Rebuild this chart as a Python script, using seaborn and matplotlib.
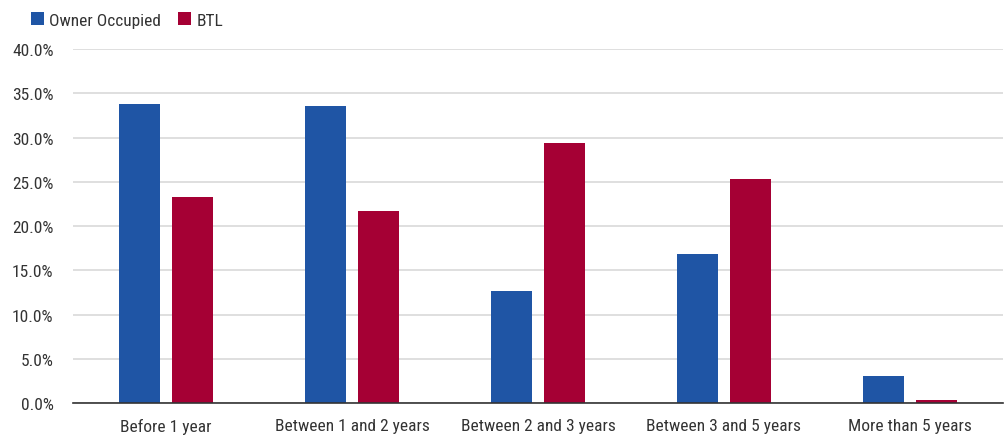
import matplotlib
matplotlib.use("Agg")
import matplotlib.pyplot as plt
import seaborn as sns
import pandas as pd
from matplotlib.ticker import FuncFormatter
from matplotlib.patches import Patch
from matplotlib import font_manager

categories = ["Before 1 year", "Between 1 and 2 years", "Between 2 and 3 years",
              "Between 3 and 5 years", "More than 5 years"]
owner_occupied = [33.8, 33.6, 12.7, 16.8, 3.1]
btl = [23.3, 21.7, 29.4, 25.3, 0.3]
series_names = ["Owner Occupied", "BTL"]
colors = ["#1f55a5", "#a50034"]

df = pd.DataFrame({
    "category": categories * 2,
    "value": owner_occupied + btl,
    "series": [series_names[0]] * len(categories) + [series_names[1]] * len(categories),
})

sns.set_style("white")
available = {f.name for f in font_manager.fontManager.ttflist}
fams = [f for f in ["Roboto Condensed", "Archivo Narrow", "Roboto"] if f in available] + ["DejaVu Sans"]
plt.rcParams['font.family'] = fams
text_color = "#333333"

fig = plt.figure(figsize=(10.06, 4.39), dpi=100)
ax = fig.add_axes([0.0726, 0.0797, 0.9244, 0.806])

sns.barplot(data=df, x="category", y="value", hue="series", order=categories,
            hue_order=series_names, palette=colors, width=0.57, gap=0.23,
            saturation=1, legend=False, ax=ax, errorbar=None, linewidth=0)

ax.set_ylim(0, 40)
ax.set_xlim(-0.5, len(categories) - 0.5)
ax.set_yticks([0, 5, 10, 15, 20, 25, 30, 35, 40])
ax.yaxis.set_major_formatter(FuncFormatter(lambda v, p: f"{v:.1f}%"))
ax.grid(axis="y", color="#d9d9d9", linewidth=1.2)
ax.set_axisbelow(True)
for s in ["top", "right", "left"]:
    ax.spines[s].set_visible(False)
ax.spines["bottom"].set_color("#333333")
ax.spines["bottom"].set_linewidth(1.2)
ax.set_xlabel("")
ax.set_ylabel("")
ax.tick_params(axis="both", length=0, labelsize=12.5, colors=text_color)
ax.tick_params(axis="x", pad=11)
ax.tick_params(axis="y", pad=14)
for lab in ax.get_xticklabels() + ax.get_yticklabels():
    lab.set_color(text_color)

handles = [Patch(facecolor=c, edgecolor="none") for c in colors]
fig.legend(handles, series_names, loc="upper left", bbox_to_anchor=(0.015, 1.005),
           ncol=2, frameon=False, fontsize=12.5, handlelength=0.75, handleheight=0.75,
           handletextpad=0.3, columnspacing=1.0, labelcolor=text_color)

fig.savefig("out.png", dpi=100)
